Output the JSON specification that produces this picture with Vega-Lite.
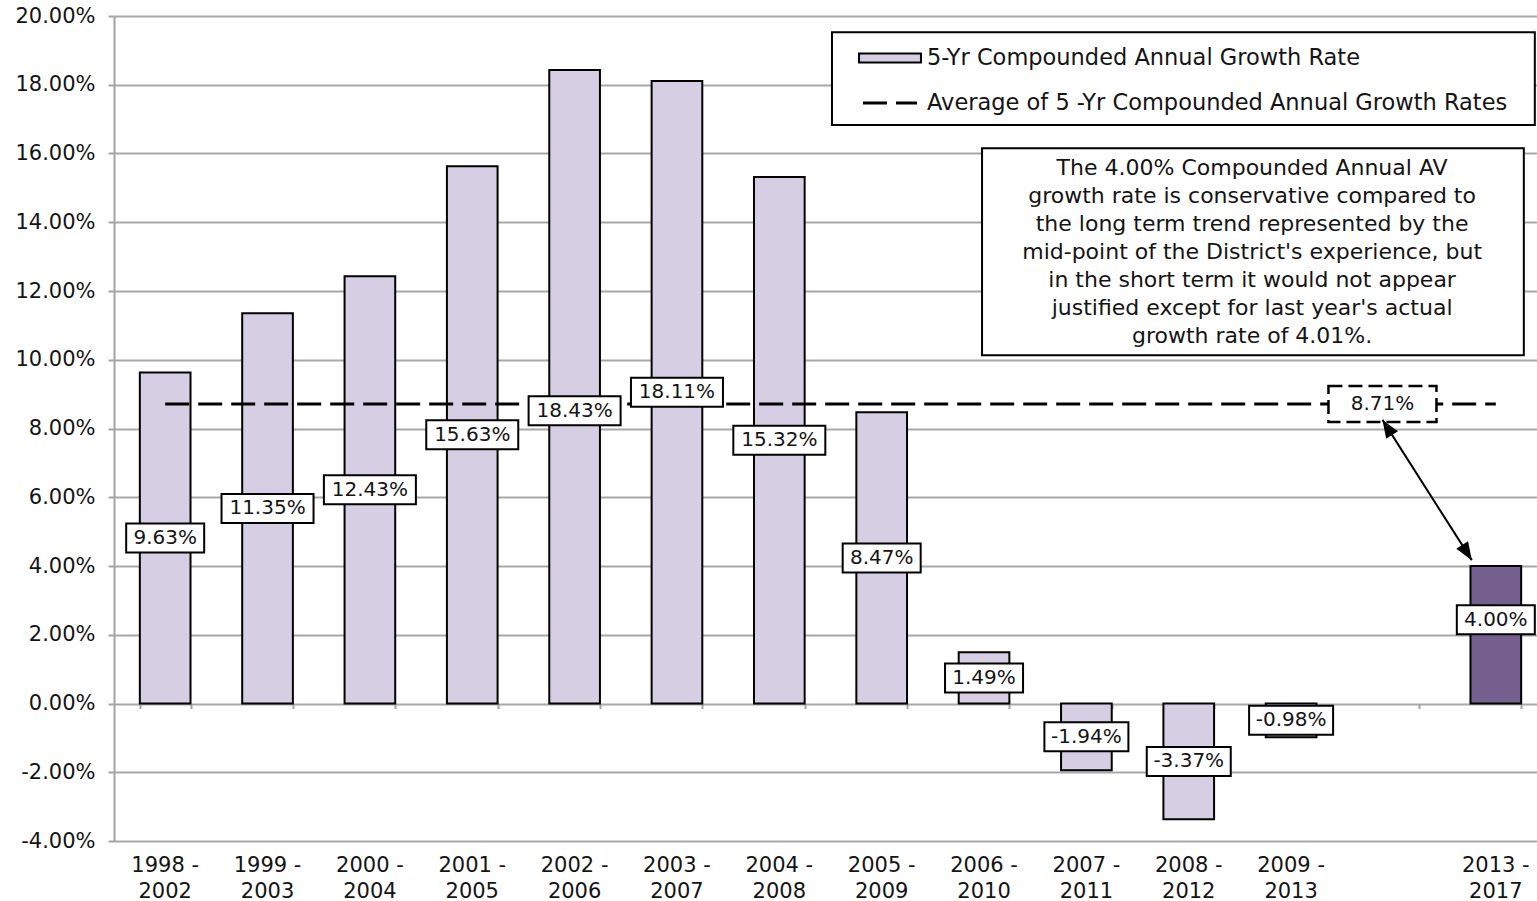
{
  "$schema": "https://vega.github.io/schema/vega-lite/v6.json",
  "width": 1423,
  "height": 825,
  "autosize": {"type": "none"},
  "padding": {"left": 114, "top": 16, "right": 0, "bottom": 60},
  "background": "white",
  "config": {
    "view": {"stroke": null},
    "font": "DejaVu Sans",
    "text": {"color": "#141414"},
    "legend": {"padding": 0, "labelColor": "#141414", "labelFontSize": 22.5, "labelLimit": 900, "title": null}
  },
  "datasets": {
    "growth": [
      {"period": "1998 - 2002", "value": 9.63, "series": "5-Yr Compounded Annual Growth Rate"},
      {"period": "1999 - 2003", "value": 11.35, "series": "5-Yr Compounded Annual Growth Rate"},
      {"period": "2000 - 2004", "value": 12.43, "series": "5-Yr Compounded Annual Growth Rate"},
      {"period": "2001 - 2005", "value": 15.63, "series": "5-Yr Compounded Annual Growth Rate"},
      {"period": "2002 - 2006", "value": 18.43, "series": "5-Yr Compounded Annual Growth Rate"},
      {"period": "2003 - 2007", "value": 18.11, "series": "5-Yr Compounded Annual Growth Rate"},
      {"period": "2004 - 2008", "value": 15.32, "series": "5-Yr Compounded Annual Growth Rate"},
      {"period": "2005 - 2009", "value": 8.47, "series": "5-Yr Compounded Annual Growth Rate"},
      {"period": "2006 - 2010", "value": 1.49, "series": "5-Yr Compounded Annual Growth Rate"},
      {"period": "2007 - 2011", "value": -1.94, "series": "5-Yr Compounded Annual Growth Rate"},
      {"period": "2008 - 2012", "value": -3.37, "series": "5-Yr Compounded Annual Growth Rate"},
      {"period": "2009 - 2013", "value": -0.98, "series": "5-Yr Compounded Annual Growth Rate"},
      {"period": "2013 - 2017", "value": 4.0, "series": "Projected"}
    ],
    "average": [
      {"avg": 8.71, "from": "1998 - 2002", "to": "2013 - 2017", "series": "Average of 5 -Yr Compounded  Annual Growth Rates"}
    ],
    "note": [{}]
  },
  "resolve": {"axis": {"x": "independent"}},
  "layer": [
    {
      "data": {"name": "growth"},
      "mark": {"type": "bar", "stroke": "black", "strokeWidth": 2, "opacity": 1},
      "encoding": {
        "x": {
          "field": "period",
          "type": "nominal",
          "sort": null,
          "scale": {
            "domain": ["1998 - 2002", "1999 - 2003", "2000 - 2004", "2001 - 2005", "2002 - 2006", "2003 - 2007", "2004 - 2008", "2005 - 2009", "2006 - 2010", "2007 - 2011", "2008 - 2012", "2009 - 2013", " ", "2013 - 2017"],
            "range": [0, 1433],
            "paddingInner": 0.505,
            "paddingOuter": 0.2525
          },
          "axis": {
            "orient": "bottom",
            "title": null,
            "ticks": false,
            "domain": false,
            "grid": false,
            "labelAngle": 0,
            "labelFontSize": 21,
            "labelLineHeight": 26,
            "labelPadding": 13,
            "labelColor": "#141414",
            "labelExpr": "length(datum.label) > 3 ? [slice(datum.label, 0, 6), slice(datum.label, 7)] : ''"
          }
        },
        "y": {
          "field": "value",
          "type": "quantitative",
          "scale": {"domain": [-4, 20], "nice": false, "zero": false},
          "axis": {
            "title": null,
            "values": [-4, -2, 0, 2, 4, 6, 8, 10, 12, 14, 16, 18, 20],
            "labelExpr": "replace(format(datum.value, '.2f'), '\u2212', '-') + '%'",
            "labelFontSize": 21,
            "labelColor": "#141414",
            "labelPadding": 13,
            "tickSize": 6,
            "tickColor": "#A3A3A3",
            "tickWidth": 2,
            "domainColor": "#A3A3A3",
            "domainWidth": 2,
            "gridColor": "#A8A8A8",
            "gridWidth": 2
          }
        },
        "color": {
          "field": "series",
          "type": "nominal",
          "scale": {
            "domain": ["5-Yr Compounded Annual Growth Rate", "Projected"],
            "range": ["#D6CEE2", "#76608F"]
          },
          "legend": {
            "values": ["5-Yr Compounded Annual Growth Rate"],
            "orient": "none",
            "legendX": 757.5,
            "legendY": 23.5,
            "symbolType": "M-1.77,-0.257H1.77V0.257H-1.77Z",
            "symbolSize": 1225,
            "symbolOffset": 0,
            "symbolStrokeWidth": 2,
            "symbolStrokeColor": "black",
            "symbolOpacity": 1,
            "labelOffset": 18.5
          }
        }
      }
    },
    {
      "data": {"name": "average"},
      "mark": {"type": "rule", "stroke": "black", "strokeWidth": 3},
      "encoding": {
        "x": {
          "field": "from",
          "type": "nominal",
          "axis": {
            "orient": "bottom",
            "offset": -137.5,
            "title": null,
            "labels": false,
            "domain": false,
            "grid": false,
            "ticks": true,
            "tickBand": "extent",
            "tickSize": 5,
            "tickWidth": 2,
            "tickColor": "#A3A3A3"
          }
        },
        "x2": {"field": "to"},
        "y": {"field": "avg", "type": "quantitative"},
        "strokeDash": {
          "field": "series",
          "type": "nominal",
          "scale": {"domain": ["Average of 5 -Yr Compounded  Annual Growth Rates"], "range": [[24, 9]]},
          "legend": {
            "orient": "none",
            "legendX": 747.5,
            "legendY": 58.5,
            "symbolType": "stroke",
            "symbolSize": 2916,
            "symbolOffset": 0,
            "symbolStrokeWidth": 3,
            "symbolStrokeColor": "black",
            "labelOffset": 8.5
          }
        }
      }
    },
    {
      "data": {"name": "growth"},
      "transform": [
        {"filter": "datum.period !== '2002 - 2006' && datum.period !== '2013 - 2017'"},
        {"calculate": "datum.value / 2", "as": "mid"},
        {"calculate": "replace(format(datum.value, '.2f'), '\u2212', '-') + '%'", "as": "lbl"}
      ],
      "encoding": {
        "x": {"field": "period", "type": "nominal", "axis": null},
        "y": {"field": "mid", "type": "quantitative"}
      },
      "layer": [
        {
          "mark": {"type": "tick", "fill": "white", "stroke": "black", "strokeWidth": 2, "thickness": 29, "opacity": 1, "fillOpacity": 1},
          "encoding": {
            "size": {"condition": [{"test": "datum.value >= 10", "value": 92}, {"test": "datum.value < 0", "value": 84}], "value": 78}
          }
        },
        {
          "mark": {"type": "text", "fontSize": 20, "align": "center", "baseline": "middle"},
          "encoding": {"text": {"field": "lbl"}}
        }
      ]
    },
    {
      "data": {"name": "growth"},
      "transform": [
        {"filter": "datum.period === '2002 - 2006'"},
        {"calculate": "datum.value / 2", "as": "mid"},
        {"calculate": "format(datum.value, '.2f') + '%'", "as": "lbl"}
      ],
      "encoding": {
        "x": {"field": "period", "type": "nominal", "axis": null},
        "y": {"field": "mid", "type": "quantitative"}
      },
      "layer": [
        {
          "mark": {"type": "tick", "fill": "white", "stroke": "black", "strokeWidth": 2, "thickness": 29, "opacity": 1, "fillOpacity": 1, "yOffset": 24},
          "encoding": {"size": {"value": 92}}
        },
        {
          "mark": {"type": "text", "fontSize": 20, "align": "center", "baseline": "middle", "yOffset": 24},
          "encoding": {"text": {"field": "lbl"}}
        }
      ]
    },
    {
      "data": {"name": "growth"},
      "transform": [
        {"filter": "datum.period === '2013 - 2017'"},
        {"calculate": "datum.value / 2", "as": "mid"},
        {"calculate": "format(datum.value, '.2f') + '%'", "as": "lbl"}
      ],
      "encoding": {
        "x": {"field": "period", "type": "nominal", "axis": null},
        "y": {"field": "mid", "type": "quantitative"}
      },
      "layer": [
        {
          "mark": {"type": "tick", "fill": "white", "stroke": "black", "strokeWidth": 2, "thickness": 29, "opacity": 1, "fillOpacity": 1, "yOffset": -15},
          "encoding": {"size": {"value": 78}}
        },
        {
          "mark": {"type": "text", "fontSize": 20, "align": "center", "baseline": "middle", "yOffset": -15},
          "encoding": {"text": {"field": "lbl"}}
        }
      ]
    },
    {
      "data": {"name": "average"},
      "transform": [{"calculate": "format(datum.avg, '.2f') + '%'", "as": "lbl"}],
      "encoding": {
        "x": {"datum": " ", "type": "nominal", "axis": null},
        "y": {"field": "avg", "type": "quantitative"}
      },
      "layer": [
        {
          "mark": {"type": "tick", "fill": "white", "stroke": "black", "strokeWidth": 2.5, "strokeDash": [14, 6], "thickness": 36, "opacity": 1, "fillOpacity": 1, "xOffset": -11},
          "encoding": {"size": {"value": 108}}
        },
        {
          "mark": {"type": "text", "fontSize": 20, "align": "center", "baseline": "middle", "xOffset": -11},
          "encoding": {"text": {"field": "lbl"}}
        }
      ]
    },
    {
      "data": {"name": "note"},
      "layer": [
        {
          "mark": {"type": "rect", "fill": "white", "stroke": "black", "strokeWidth": 2, "opacity": 1, "xOffset": -49.7, "x2Offset": 39},
          "encoding": {
            "x": {"datum": "2005 - 2009", "type": "nominal", "axis": null},
            "x2": {"datum": "2013 - 2017"},
            "y": {"datum": 19.53, "type": "quantitative"},
            "y2": {"datum": 16.83}
          }
        },
        {
          "mark": {"type": "rule", "stroke": "black", "strokeWidth": 2, "xOffset": -11, "x2Offset": -24},
          "encoding": {
            "x": {"datum": " ", "type": "nominal", "axis": null},
            "x2": {"datum": "2013 - 2017"},
            "y": {"datum": 8.25, "type": "quantitative"},
            "y2": {"datum": 4.17}
          }
        },
        {
          "mark": {"type": "point", "shape": "M0,0L0.7,1.8L-0.7,1.8Z", "size": 400, "angle": -32.4, "filled": true, "fill": "black", "strokeWidth": 0, "opacity": 1, "xOffset": -11},
          "encoding": {
            "x": {"datum": " ", "type": "nominal", "axis": null},
            "y": {"datum": 8.25, "type": "quantitative"}
          }
        },
        {
          "mark": {"type": "point", "shape": "M0,0L0.7,1.8L-0.7,1.8Z", "size": 400, "angle": 147.6, "filled": true, "fill": "black", "strokeWidth": 0, "opacity": 1, "xOffset": -24},
          "encoding": {
            "x": {"datum": "2013 - 2017", "type": "nominal", "axis": null},
            "y": {"datum": 4.17, "type": "quantitative"}
          }
        },
        {
          "mark": {"type": "rect", "fill": "white", "stroke": "black", "strokeWidth": 2, "opacity": 1, "xOffset": -2, "x2Offset": 28},
          "encoding": {
            "x": {"datum": "2006 - 2010", "type": "nominal", "axis": null},
            "x2": {"datum": "2013 - 2017"},
            "y": {"datum": 16.15, "type": "quantitative"},
            "y2": {"datum": 10.13}
          }
        },
        {
          "mark": {
            "type": "text",
            "fontSize": 22,
            "lineHeight": 28,
            "align": "center",
            "baseline": "middle",
            "xOffset": -39,
            "text": [
              "The 4.00% Compounded Annual AV",
              "growth rate is conservative compared to",
              "the long term trend represented by the",
              "mid-point of the District's experience, but",
              "in the short term it would not appear",
              "justified except for last year's actual",
              "growth rate of 4.01%."
            ]
          },
          "encoding": {
            "x": {"datum": "2009 - 2013", "type": "nominal", "axis": null},
            "y": {"datum": 15.58, "type": "quantitative"}
          }
        }
      ]
    }
  ]
}
